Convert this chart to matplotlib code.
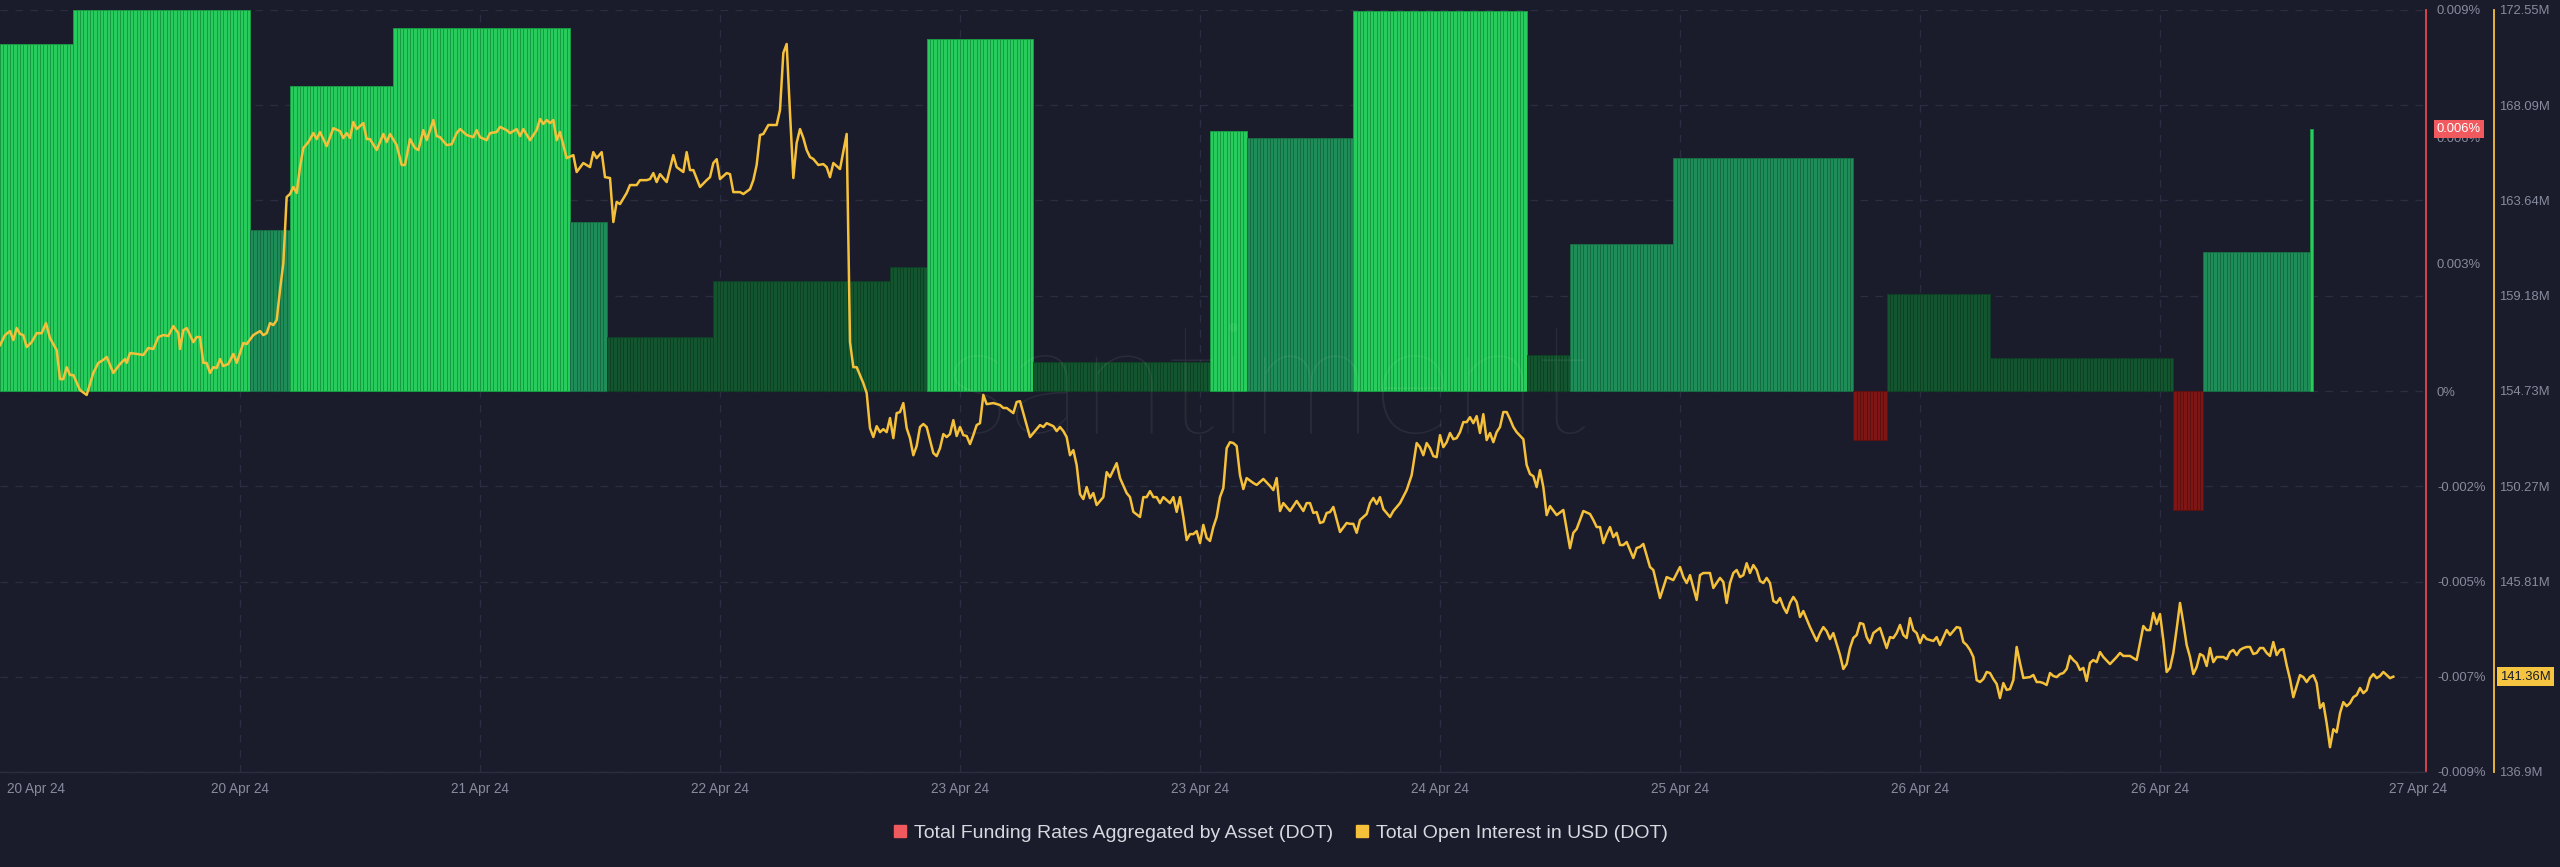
import matplotlib
matplotlib.use("Agg")
import matplotlib.pyplot as plt
import matplotlib.transforms as mtrans
from matplotlib.lines import Line2D
import numpy as np

plt.rcParams['font.family'] = ['Liberation Sans', 'DejaVu Sans']

# ---------------- data ----------------
# funding rate (% per period), blocks of 15-minute samples
funding_block_len = [22, 53, 12, 31, 53, 11, 32, 53, 11, 32, 53, 11, 32, 52, 13, 31, 54, 10, 31, 55, 9, 32, 1]
funding_block_pct = [0.0082, 0.0090, 0.0038, 0.0072, 0.00857, 0.0040, 0.00127, 0.00261, 0.00292, 0.00832,
                     0.00068, 0.00615, 0.00598, 0.00897, 0.00086, 0.00347, 0.00551, -0.00115, 0.00229,
                     0.00078, -0.00281, 0.00328, 0.00619]

# open interest (USD millions), time in 15-minute steps
oi_t = ([0, 1.5, 3, 4, 5, 6, 7, 8, 9.5, 11, 12.5, 13.8, 15, 17, 18, 19, 20, 21, 22, 24, 26, 28, 29.5, 31, 32, 34,
         36, 37.5, 38, 39, 41, 43, 44.5, 46, 47.5, 49, 50.5, 52, 53.5, 54, 55, 56, 58, 59, 60, 61, 62, 63, 64, 65,
         66, 67, 68.5, 70, 71, 73, 74, 76, 78, 79, 80, 81, 82, 83, 84, 85, 86, 87, 88, 89, 90, 91, 92.5, 94, 95,
         96, 98, 100, 102, 103, 104, 105, 106, 107, 109, 110, 111, 113, 115, 116, 117, 119, 120.5, 121.5, 123,
         124.5, 125.5, 127, 128, 130]
        + [131, 132, 134, 135.5, 137, 138, 140, 142, 143, 144, 146, 147, 149, 150, 152, 153, 155, 156, 157, 159,
           161, 162, 163, 164, 165, 166, 167, 168, 170, 172, 173, 175, 177, 178, 179, 180.5, 181.5, 183, 184, 185,
           186, 188, 189, 191, 192, 194, 195, 196, 197, 198, 200, 202, 203, 205, 206, 207, 208, 210, 212, 213,
           214, 215, 216, 218, 219, 220, 222, 223, 225, 226, 227, 228, 229, 230.5, 232, 233, 234, 235, 236, 237,
           238, 239, 240, 241, 242, 243, 244, 245.5, 247, 248, 249, 250, 252, 254, 255, 256]
        + [257, 258, 259, 260, 261, 262, 263, 264, 265, 266, 267, 268, 269, 270, 271, 272, 273, 274, 275, 276,
           277, 278, 279, 280, 281, 282, 283, 284, 285, 286, 287, 288, 289, 290, 291, 292, 293, 294, 295, 296,
           298, 300, 301, 302, 304, 305, 306, 307, 309, 311, 312, 313, 314, 316, 317, 318, 319, 320, 321, 322,
           323, 324, 325, 326, 327, 328, 329, 331, 332, 333, 335, 336, 338, 339, 340, 342, 343, 344, 345, 346,
           347, 348, 349, 351, 352, 353, 354, 355, 356, 357, 358, 359, 360, 361, 362, 363, 364, 365, 366, 367,
           368, 369, 370, 371, 372, 373, 374, 376, 377, 379, 381, 382, 383, 384, 385, 387, 389]
        + [391, 392, 393, 394, 395, 396, 397, 398, 399, 400, 402, 404, 405, 406, 407, 408, 410, 411, 412, 413,
           414, 415, 417, 418, 420, 422, 423.5, 425, 426, 427, 428, 429, 430, 431, 432, 433, 434, 435, 436, 437,
           438, 439, 440, 441, 442, 443, 444, 445, 446, 447, 448, 449, 450, 451, 452, 453, 454, 455, 457, 458,
           459, 460, 461, 462, 463, 464, 465, 467, 469, 471, 472, 473, 475, 477, 478, 479, 480, 481, 482, 483,
           484, 485, 486, 487, 488, 490, 491, 492, 493, 495, 496, 498, 500, 502, 504, 505, 506, 507, 509, 510,
           511, 513, 514, 516]
        + list(range(517, 542))
        + [543, 545, 546, 547, 548, 549, 550, 552, 553, 554, 555, 556, 557, 558, 559, 560, 561, 562, 564, 565,
           566, 567, 568, 569, 570, 571, 572, 573, 574, 575, 576, 577, 578, 580, 581, 582, 584, 585, 587, 588,
           589, 590, 591, 592, 593, 594, 595, 596, 597, 598, 599, 600, 601, 602, 603, 604, 605, 606, 607, 609,
           610, 611, 612, 613, 614, 615, 616, 617, 618, 619, 620, 621, 622, 623, 624, 625, 626, 627, 628, 629,
           630, 631, 633, 635, 636, 637, 639, 640, 641]
        + list(range(642, 719)))

oi_v = ([156.87, 157.34, 157.53, 157.11, 157.67, 157.39, 157.34, 156.78, 157.01, 157.43, 157.43, 157.90, 157.20,
         156.64, 155.28, 155.28, 155.84, 155.47, 155.47, 154.77, 154.54, 155.57, 156.04, 156.18, 156.32, 155.57,
         155.99, 156.22, 156.04, 156.50, 156.46, 156.41, 156.74, 156.69, 157.25, 157.34, 157.30, 157.76, 157.43,
         156.69, 157.57, 157.67, 157.01, 157.25, 157.25, 156.04, 156.04, 155.57, 155.84, 155.80, 156.22, 155.89,
         155.99, 156.46, 156.04, 156.97, 156.92, 157.34, 157.53, 157.34, 157.43, 157.90, 157.81, 158.04, 159.45,
         160.71, 163.80, 163.94, 164.27, 163.99, 165.20, 166.09, 166.37, 166.79, 166.51, 166.84, 166.18, 167.02,
         166.88, 166.56, 166.79, 166.56, 167.31, 166.98, 167.26, 166.51, 166.51, 166.00, 166.75, 166.37, 166.75,
         166.23, 165.30, 165.30, 166.51, 166.09, 166.00, 166.93, 166.46, 167.40]
        + [166.65, 166.60, 166.23, 166.27, 166.79, 166.98, 166.70, 166.60, 166.93, 166.60, 166.46, 166.79, 166.84,
           167.08, 166.93, 166.79, 166.98, 166.65, 166.98, 166.46, 166.93, 167.45, 167.22, 167.40, 167.26, 167.40,
           166.46, 166.84, 165.62, 165.76, 164.97, 165.39, 165.20, 165.90, 165.62, 165.90, 164.73, 164.69, 162.63,
           163.57, 163.47, 163.99, 164.36, 164.36, 164.59, 164.59, 164.64, 164.92, 164.50, 164.87, 164.50, 165.76,
           165.20, 164.97, 165.90, 165.06, 165.06, 164.27, 164.59, 164.73, 165.39, 165.57, 164.64, 164.92, 164.87,
           164.03, 164.03, 163.94, 164.17, 164.59, 165.30, 166.70, 166.75, 167.17, 167.17, 167.17, 167.87, 170.54,
           170.96, 167.73, 164.69, 166.33, 166.98, 166.56, 166.00, 165.67, 165.58, 165.30, 165.34, 165.20, 164.73,
           165.39, 165.11, 166.75, 157.01, 155.84]
        + [155.84, 155.47, 155.09, 154.63, 152.99, 152.57, 153.08, 152.80, 152.94, 152.80, 153.46, 152.52, 153.69,
           153.74, 154.16, 152.99, 152.52, 151.72, 152.15, 153.04, 153.18, 153.04, 152.43, 151.82, 151.68, 152.05,
           152.71, 152.57, 152.71, 153.36, 152.62, 153.04, 152.66, 152.62, 152.24, 152.66, 153.13, 153.22, 154.54,
           154.11, 154.16, 154.07, 153.93, 153.93, 153.69, 154.21, 154.25, 153.69, 152.57, 152.94, 153.13, 153.04,
           153.22, 153.08, 152.85, 153.04, 152.85, 152.57, 151.72, 151.96, 151.26, 149.90, 149.67, 150.23, 149.71,
           149.95, 149.39, 149.76, 150.93, 150.70, 151.35, 150.65, 149.95, 149.76, 149.07, 148.83, 149.76, 149.76,
           150.04, 149.76, 149.76, 149.48, 149.76, 149.48, 149.76, 149.07, 149.76, 148.83, 147.75, 148.03, 148.03,
           148.17, 147.61, 148.46, 147.85, 147.71, 148.36, 148.83, 149.76, 150.18, 152.05, 152.33, 152.29, 152.15,
           150.79, 150.14, 150.65, 150.42, 150.33, 150.61, 150.28, 150.09, 150.65, 149.11, 149.48, 149.11, 149.58]
        + [149.11, 149.48, 149.48, 149.02, 149.06, 148.55, 148.60, 149.02, 149.06, 149.30, 148.13, 148.55, 148.51,
           148.51, 148.09, 148.69, 148.97, 149.48, 149.72, 149.44, 149.76, 149.20, 148.83, 149.11, 149.48, 150.09,
           150.79, 152.29, 152.10, 151.72, 152.29, 152.05, 151.68, 151.63, 152.66, 152.10, 152.33, 152.76, 152.47,
           152.52, 152.80, 153.27, 153.27, 153.50, 153.22, 153.55, 152.76, 153.64, 152.43, 152.76, 152.33, 152.80,
           153.04, 153.74, 153.74, 153.41, 153.04, 152.80, 152.47, 151.26, 150.84, 150.74, 150.23, 151.02, 150.23,
           148.92, 149.34, 148.92, 149.16, 147.37, 148.09, 148.27, 149.11, 148.97, 148.69, 148.36, 148.36, 147.61,
           148.03, 148.36, 147.89, 148.09, 147.52, 147.52, 147.66, 146.91, 147.38, 147.43, 147.57, 146.49, 146.35,
           145.04, 146.02, 145.88, 146.49, 146.02, 145.74, 146.11, 144.95, 146.11, 146.21, 146.21, 145.51, 145.98]
        + [145.79, 144.81, 145.74, 146.21, 146.35, 146.02, 146.11, 146.67, 146.21, 146.58, 146.35, 145.84, 145.74,
           145.98, 145.74, 144.90, 144.81, 145.04, 144.62, 144.34, 144.81, 145.09, 144.85, 144.15, 144.43]
        + [143.68, 143.03, 143.40, 143.68, 143.49, 143.12, 143.40, 142.37, 141.72, 141.95, 142.70, 143.17, 143.31,
           143.87, 143.82, 143.21, 142.93, 143.40, 143.64, 143.17, 142.70, 143.21, 143.17, 143.40, 143.78, 143.31,
           143.17, 144.10, 143.54, 143.40, 142.93, 143.31, 143.12, 143.03, 143.21, 142.84, 143.54, 143.31, 143.68,
           143.64, 142.98, 142.84, 142.61, 142.28, 141.20, 141.11, 141.25, 141.58, 141.53, 141.25, 141.02, 140.36,
           141.06, 140.74, 140.78, 141.20, 142.75, 142.00, 141.30, 141.34, 141.44, 141.11, 141.11, 141.06, 140.97,
           141.53, 141.39, 141.34, 141.48, 141.53, 141.72, 142.33, 142.14, 142.00, 141.67, 141.77, 141.16, 142.00,
           142.14, 142.04, 142.51, 142.28, 141.95, 142.28, 142.47, 142.33, 142.33, 142.23, 142.14]
        + [142.93, 143.73, 143.54, 143.54, 144.34, 143.82, 144.29, 143.07, 141.58, 141.77,
           142.47, 143.59, 144.81, 143.87, 142.84, 142.28, 141.48, 141.81, 142.42, 142.33,
           141.86, 142.70, 142.04, 142.28, 142.28, 142.28, 142.18, 142.51, 142.61, 142.37,
           142.61, 142.70, 142.75, 142.75, 142.42, 142.47, 142.70, 142.70, 142.47, 142.33,
           142.98, 142.37, 142.61, 142.65, 141.90, 141.25, 140.40, 140.92, 141.43, 141.34,
           141.11, 141.34, 141.43, 141.06, 139.89, 140.12, 139.18, 138.06, 138.90, 138.76,
           139.65, 140.17, 139.98, 140.12, 140.40, 140.50, 140.83, 140.59, 140.73, 141.29,
           141.48, 141.29, 141.39, 141.58, 141.44, 141.29, 141.36])

x_tick_pos = [0, 72, 144, 216, 288, 360, 432, 504, 576, 648, 725.4]
x_tick_labels = ['20 Apr 24', '20 Apr 24', '21 Apr 24', '22 Apr 24', '23 Apr 24', '23 Apr 24',
                 '24 Apr 24', '25 Apr 24', '26 Apr 24', '26 Apr 24', '27 Apr 24']
fund_ticks = [0.009, 0.006, 0.003, 0, -0.00225, -0.0045, -0.00675, -0.009]
fund_tick_labels = ['0.009%', '0.006%', '0.003%', '0%', '-0.002%', '-0.005%', '-0.007%', '-0.009%']
oi_ticks = [172.55, 168.09, 163.64, 159.18, 154.73, 150.27, 145.81, 141.36, 136.9]
oi_tick_labels = ['172.55M', '168.09M', '163.64M', '159.18M', '154.73M', '150.27M', '145.81M', '141.36M', '136.9M']
fund_lim = (-0.009, 0.009)
oi_lim = (136.9, 172.55)
last_fund_label = '0.006%'
last_oi_label = '141.36M'
legend_labels = ['Total Funding Rates Aggregated by Asset (DOT)', 'Total Open Interest in USD (DOT)']

# ---------------- style ----------------
BG = '#1b1c2b'
GRID = '#2b2e42'
TICK = '#868b9d'
RED_AX = '#e5484d'
YEL = '#f5c03a'
FS = 9.8
FS_R = 9.4

W, H = 2560, 867
fig = plt.figure(figsize=(W / 100, H / 100), dpi=100, facecolor=BG)
ax = fig.add_axes([0, (H - 772) / H, 2426 / W, 762 / H])
ax.set_facecolor(BG)
ax.set_xlim(0, 727.8)
ax.set_ylim(*fund_lim)

ax2 = ax.twinx()
ax2.set_ylim(*oi_lim)
ax.yaxis.tick_right()


def bar_colors(v):
    if v < 0:
        return '#7e1616', '#5e1010'
    if v >= 0.006:
        return '#28cc5c', '#1a9944'
    if v >= 0.003:
        return '#1f8d57', '#176b43'
    return '#13552f', '#0e4024'


fund = np.repeat(funding_block_pct, funding_block_len)
t = np.arange(len(fund))
cols = [bar_colors(v) for v in fund]
ax.bar(t, fund, width=1.0, align='edge', color=[c[0] for c in cols],
       edgecolor=[c[1] for c in cols], linewidth=0.7, zorder=2)

# grid (behind bars)
htrans = mtrans.blended_transform_factory(ax.transAxes, ax2.transData)
for yv in oi_ticks:
    ax.add_line(Line2D([0, 1], [yv, yv], transform=htrans, color=GRID, lw=0.9,
                       dashes=(6, 6), zorder=1))
for xv in x_tick_pos[1:-1]:
    ax.axvline(xv, color=GRID, lw=0.9, dashes=(6, 6), zorder=1)

# watermark
ax.text(0.522, 0.5, 'santiment', transform=ax.transAxes, fontsize=112, color='white', alpha=0.065,
        ha='center', va='center', zorder=3, family=['Lato', 'DejaVu Sans'], fontweight='light')

# OI line
ax2.plot(oi_t, oi_v, color=YEL, lw=1.8, zorder=5, solid_joinstyle='round')

# spines
for s in ['top', 'left']:
    ax.spines[s].set_visible(False)
ax.spines['bottom'].set_color('#2a2d40')
ax.spines['bottom'].set_linewidth(1.0)
ax.spines['right'].set_color(RED_AX)
ax.spines['right'].set_linewidth(1.3)
for s in ['top', 'left', 'bottom']:
    ax2.spines[s].set_visible(False)
ax2.spines['right'].set_position(('axes', 1.028))
ax2.spines['right'].set_color(YEL)
ax2.spines['right'].set_linewidth(1.3)

ax.set_yticks(fund_ticks, fund_tick_labels)
ax.tick_params(axis='y', length=0, pad=7.9, labelsize=FS_R, labelcolor=TICK)
ax.tick_params(axis='x', length=0, labelbottom=False)
ax2.set_yticks(oi_ticks, oi_tick_labels)
ax2.tick_params(axis='y', length=0, pad=4.0, labelsize=FS_R, labelcolor=TICK)

# x labels
xtr = mtrans.offset_copy(mtrans.blended_transform_factory(ax.transData, ax.transAxes), fig=fig, y=-17, units='dots')
for i, (xp, lb) in enumerate(zip(x_tick_pos, x_tick_labels)):
    if i == 0:
        ax.text(xp + 2.1, 0, lb, transform=xtr, ha='left', va='center', fontsize=FS, color=TICK, clip_on=False)
    else:
        ax.text(xp, 0, lb, transform=xtr, ha='center', va='center', fontsize=FS, color=TICK, clip_on=False)

# badges
btr = mtrans.blended_transform_factory(ax.transAxes, ax.transData)
ax.text(1.0045, funding_block_pct[-1], last_fund_label, transform=btr, ha='left', va='center',
        fontsize=FS_R, color='white', clip_on=False, zorder=10,
        bbox=dict(boxstyle='square,pad=0.25', fc='#f05a5f', ec='none'))
btr2 = mtrans.blended_transform_factory(ax2.transAxes, ax2.transData)
ax2.text(1.0305, oi_v[-1], last_oi_label, transform=btr2, ha='left', va='center',
         fontsize=FS_R, color='#1b1c2b', clip_on=False, zorder=10,
         bbox=dict(boxstyle='square,pad=0.25', fc='#f5c542', ec='none'))

# legend
handles = [Line2D([], [], marker='s', ls='none', color='#f05a5f', markersize=8),
           Line2D([], [], marker='s', ls='none', color=YEL, markersize=8)]
fig.legend(handles, legend_labels, loc='center', bbox_to_anchor=(0.5, 0.039), ncol=2, frameon=False,
           fontsize=14.0, labelcolor='#d6d9e0', handletextpad=0.3, columnspacing=1.1, handlelength=0.8)

fig.savefig('out.png', dpi=100, facecolor=BG)
